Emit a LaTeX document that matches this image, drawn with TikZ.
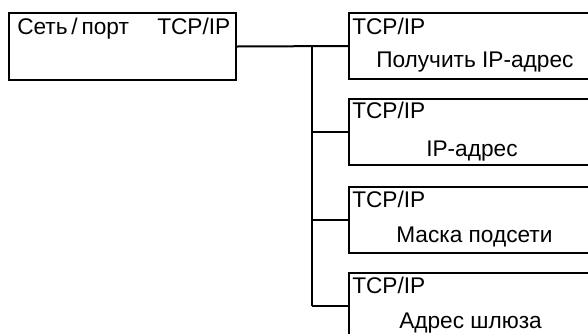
\documentclass[tikz,border=0pt]{standalone}
\usepackage{fontspec}
\setmainfont{Liberation Sans}
\usetikzlibrary{positioning}

\begin{document}
\begin{tikzpicture}[x=0.75pt, y=-0.75pt,
    box/.style={draw, line width=1.5pt, inner sep=0pt},
    menu/.style={box, minimum width=187.5pt, minimum height=49.5pt},
    txt/.style={anchor=base west, inner sep=0pt, font=\fontsize{17}{19}\selectfont},
    wire/.style={line width=1.5pt}]
  \useasboundingbox (0,0) rectangle (588,333);
  \clip (0,0) rectangle (588,333);
  % Top level box
  \node[box, minimum width=170.25pt, minimum height=50.25pt] (net) at (122.5,46.5) {};
  \node[txt] (netlbl) at (17,34) {Сеть\,/\,порт};
  \node[txt] (nethd) at (157,34) {TCP/IP};
  % Sub menu boxes
  \node[menu] (ip1) at (474,46) {};
  \node[menu] (ip2) at (474,131.5) {};
  \node[menu] (ip3) at (474,219.5) {};
  \node[menu] (ip4) at (474,306) {};
  % Texts
  \node[txt] (hd1) at (352,34) {TCP/IP};
  \node[txt] (lb1) at (376,67) {Получить IP-адрес};
  \node[txt] (hd2) at (352,118) {TCP/IP};
  \node[txt] (lb2) at (426,156) {IP-адрес};
  \node[txt] (hd3) at (352,207) {TCP/IP};
  \node[txt] (lb3) at (396,242) {Маска подсети};
  \node[txt] (hd4) at (352,293) {TCP/IP};
  \node[txt] (lb4) at (399,328) {Адрес шлюза};
  % Connectors
  \coordinate (split) at (312,46);
  \draw[wire] (net.east) -- (ip1.west);
  \draw[wire] (split) -- (split |- ip4.west);
  \foreach \i in {2,3,4}
    \draw[wire] (split |- ip\i.west) -- (ip\i.west);
\end{tikzpicture}
\end{document}
